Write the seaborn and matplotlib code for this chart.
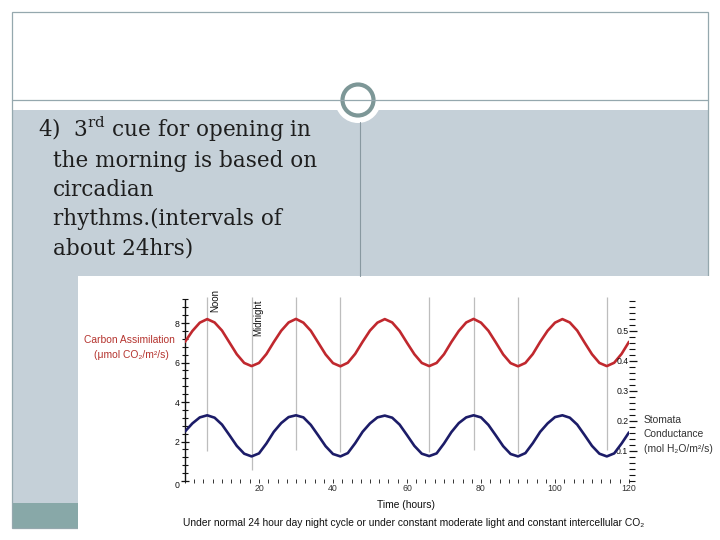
import matplotlib
matplotlib.use('Agg')
import matplotlib.pyplot as plt
from matplotlib.patches import Rectangle, Circle
from matplotlib.ticker import MultipleLocator, FixedLocator
import seaborn as sns

# ── Data ──────────────────────────────────────────────────────
hours = list(range(0, 121, 2))

carbon_assim = [
    7.05, 7.60, 8.02, 8.20, 8.03, 7.62, 7.02, 6.42, 5.98, 5.82, 5.98, 6.43,
    7.04, 7.61, 8.03, 8.21, 8.02, 7.61, 7.01, 6.41, 5.97, 5.81, 5.99, 6.44,
    7.05, 7.62, 8.02, 8.20, 8.03, 7.60, 7.00, 6.42, 5.98, 5.82, 5.98, 6.42,
    7.04, 7.60, 8.03, 8.21, 8.02, 7.61, 7.02, 6.41, 5.97, 5.81, 5.98, 6.43,
    7.05, 7.61, 8.02, 8.20, 8.03, 7.62, 7.01, 6.42, 5.98, 5.82, 5.99, 6.44,
    7.05,
]

stomatal_cond = [
    0.165, 0.192, 0.212, 0.219, 0.211, 0.188, 0.153, 0.117, 0.091, 0.082, 0.092, 0.125,
    0.164, 0.193, 0.213, 0.219, 0.212, 0.187, 0.152, 0.116, 0.090, 0.082, 0.093, 0.126,
    0.164, 0.192, 0.212, 0.218, 0.211, 0.188, 0.153, 0.117, 0.091, 0.083, 0.092, 0.125,
    0.163, 0.193, 0.212, 0.219, 0.212, 0.187, 0.152, 0.116, 0.090, 0.082, 0.093, 0.126,
    0.164, 0.192, 0.213, 0.219, 0.211, 0.188, 0.153, 0.117, 0.091, 0.082, 0.092, 0.125,
    0.162,
]

# light/dark markers (hours) and how far down each grey line reaches
marker_hours = [6, 18, 30, 42, 66, 78, 90, 114]
marker_bottoms = [1.50, 0.55, 1.55, 1.45, 1.45, 1.55, 1.40, 1.55]

x_ticks = [0, 20, 40, 60, 80, 100, 120]
x_ticklabels = ['', '20', '40', '60', '80', '100', '120']
left_ticks = [0, 2, 4, 6, 8]
right_ticks = [0.1, 0.2, 0.3, 0.4, 0.5]

slide_lines = [
    '4)  $3^{\\mathrm{rd}}$ cue for opening in',
    'the morning is based on',
    'circadian',
    'rhythms.(intervals of',
    'about 24hrs)',
]

# ── Colours ───────────────────────────────────────────────────
RED = '#c0282e'
NAVY = '#1c1c68'
PANEL = '#c5d0d8'
TEAL = '#88a8a8'
FRAME = '#95a8ae'
RING = '#7d9797'

sns.set_style('white')
plt.rcParams['font.family'] = ['Liberation Sans', 'DejaVu Sans']
plt.rcParams['mathtext.fontset'] = 'dejavuserif'
SANS = ['Liberation Sans', 'DejaVu Sans']

fig = plt.figure(figsize=(7.2, 5.4), dpi=100)
fig.patch.set_facecolor('white')

# ── Slide background (pixel coordinates) ──────────────────────
bg = fig.add_axes([0, 0, 1, 1])
bg.set_xlim(0, 720)
bg.set_ylim(540, 0)
bg.axis('off')

bg.add_patch(Rectangle((12, 110), 696, 418, facecolor=PANEL, edgecolor='none'))
bg.add_patch(Rectangle((12, 503), 66, 25, facecolor=TEAL, edgecolor='none'))
bg.add_patch(Rectangle((12, 12), 696, 516, facecolor='none', edgecolor=FRAME, lw=0.9))
bg.plot([12, 708], [100, 100], color=FRAME, lw=0.9)
bg.plot([360, 360], [122, 276], color='#8898a0', lw=0.8)
bg.add_patch(Circle((358, 100), 23, facecolor='white', edgecolor='none'))
bg.add_patch(Circle((358, 100), 15.5, facecolor='white', edgecolor=RING, lw=3.0))

for i, txt in enumerate(slide_lines):
    bg.text(38 if i == 0 else 53, 137 + i * 29.5, txt, fontsize=15.5,
            family='DejaVu Serif', color='#1e1e1e', va='baseline', ha='left')

# white scanned-figure area
bg.add_patch(Rectangle((78, 276), 642, 264, facecolor='white', edgecolor='none'))

# ── Chart axes ────────────────────────────────────────────────
ax = fig.add_axes([185 / 720, 59 / 540, 444 / 720, 184 / 540])
ax.set_facecolor('none')
ax.set_xlim(0, 120)
ax.set_ylim(0, 9.32)

ax.vlines(marker_hours, marker_bottoms, 9.32, color='#bdbdbd', lw=0.9, zorder=1)

sns.lineplot(x=hours, y=carbon_assim, ax=ax, color=RED, lw=1.9, zorder=3)

for s in ['top', 'right', 'bottom']:
    ax.spines[s].set_visible(False)
ax.spines['left'].set_bounds(0, 9.15)
ax.spines['left'].set_color('#111111')
ax.spines['left'].set_linewidth(1.0)

ax.yaxis.set_major_locator(FixedLocator(left_ticks))
ax.yaxis.set_minor_locator(MultipleLocator(0.4))
ax.set_yticklabels([str(t) for t in left_ticks])
ax.tick_params(axis='y', which='major', direction='inout', length=6, width=0.9,
               labelsize=6.3, pad=1, colors='#111111', left=True)
ax.tick_params(axis='y', which='minor', direction='inout', length=5, width=0.8,
               colors='#111111', left=True)
ax.get_yticklabels()[0].set_va('top')

ax.xaxis.set_major_locator(FixedLocator(x_ticks))
ax.xaxis.set_minor_locator(MultipleLocator(2.5))
ax.set_xticklabels(x_ticklabels)
ax.tick_params(axis='x', which='both', direction='inout', length=3, width=0.7,
               labelsize=6.3, pad=1, colors='#333333', bottom=True)

# right axis: stomatal conductance
ax2 = ax.twinx()
ax2.set_ylim(0, 0.6133)
sns.lineplot(x=hours, y=stomatal_cond, ax=ax2, color=NAVY, lw=1.9, zorder=3)
for s in ['top', 'left', 'bottom', 'right']:
    ax2.spines[s].set_visible(False)
ax2.yaxis.set_major_locator(FixedLocator(right_ticks))
ax2.yaxis.set_minor_locator(MultipleLocator(0.02))
ax2.set_yticklabels([f'{t:.1f}' for t in right_ticks])
ax2.tick_params(axis='y', which='major', direction='out', length=6, width=0.9,
                labelsize=6.3, pad=-6.5, colors='#111111', right=True)
ax2.tick_params(axis='y', which='minor', direction='out', length=4, width=0.8,
                colors='#111111', right=True)
for lab in ax2.get_yticklabels():
    lab.set_ha('right')
ax2.set_ylabel('')
ax.set_ylabel('')
ax.set_xlabel('')

# ── Chart annotations ─────────────────────────────────────────
bg.text(210, 289, 'Noon', rotation=90, ha='left', va='top', fontsize=7,
        family=SANS, color='#111111')
bg.text(253, 299, 'Midnight', rotation=90, ha='left', va='top', fontsize=7,
        family=SANS, color='#111111')

bg.text(129, 340, 'Carbon Assimilation', ha='center', va='center', fontsize=7.4,
        family=SANS, color='#b5342f')
bg.text(131, 355, '(μmol CO₂/m²/s)', ha='center', va='center', fontsize=7.4,
        family=SANS, color='#b5342f')

bg.text(644, 420, 'Stomata', ha='left', va='center', fontsize=7.4,
        family=SANS, color='#333333')
bg.text(644, 434, 'Conductance', ha='left', va='center', fontsize=7.4,
        family=SANS, color='#333333')
bg.text(644, 449, '(mol H₂O/m²/s)', ha='left', va='center', fontsize=7.4,
        family=SANS, color='#333333')

bg.text(406, 505, 'Time (hours)', ha='center', va='center', fontsize=7.4,
        family=SANS, color='#111111')
bg.text(414, 523, 'Under normal 24 hour day night cycle or under constant moderate '
        'light and constant intercellular CO₂', ha='center', va='center',
        fontsize=7.4, family=SANS, color='#111111')

fig.savefig('out.png', dpi=100, facecolor='white')
